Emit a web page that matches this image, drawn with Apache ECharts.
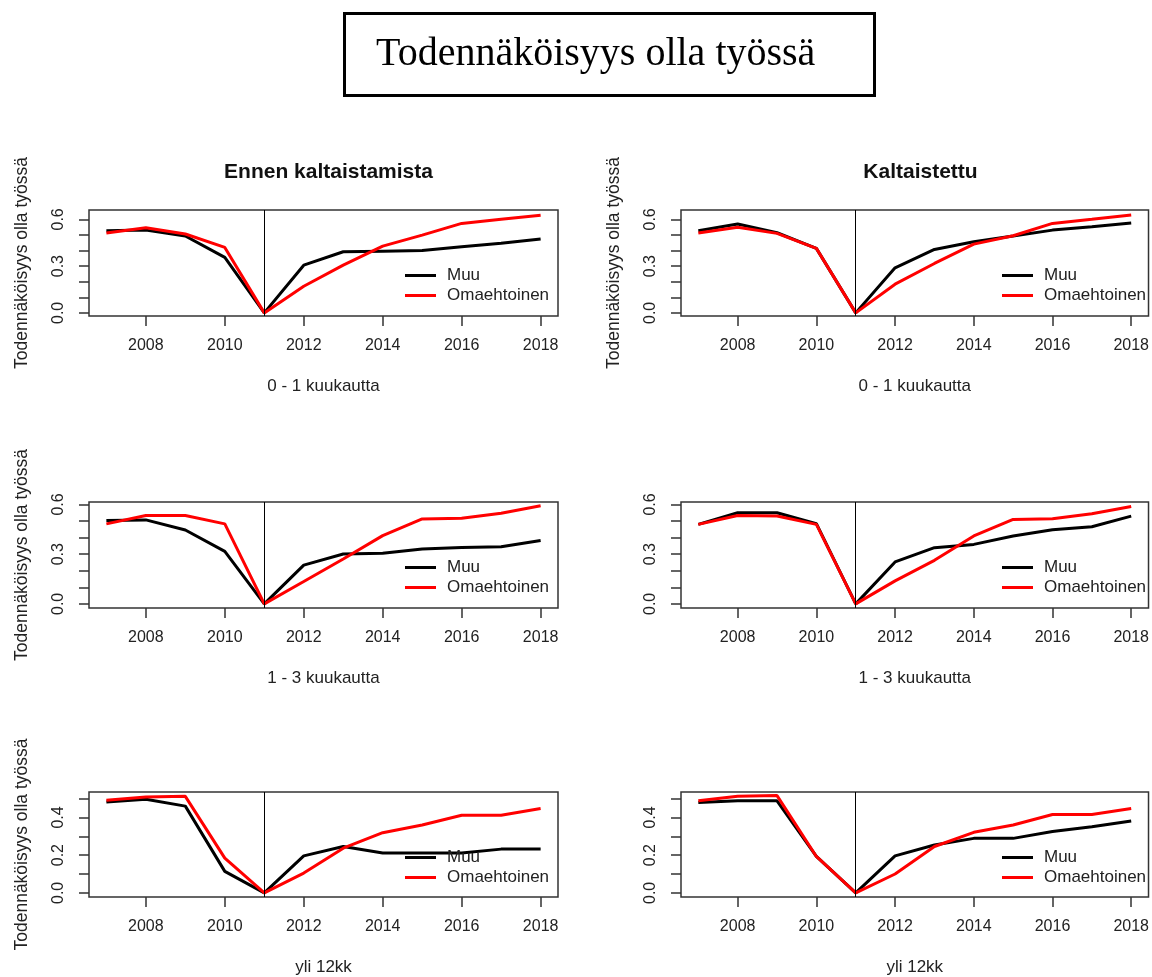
<!DOCTYPE html>
<html><head><meta charset="utf-8">
<script src="https://cdn.jsdelivr.net/npm/echarts@6/dist/echarts.min.js"></script>
<style>html,body{margin:0;padding:0;background:#fff}#c{width:1152px;height:977px}</style>
</head><body><div id="c"></div>
<script>
// ---- data ----
const years = [2007, 2008, 2009, 2010, 2011, 2012, 2013, 2014, 2015, 2016, 2017, 2018];
const xTicks = [2008, 2010, 2012, 2014, 2016, 2018];
const breakYear = 2011;
const mainTitle = 'Todennäköisyys olla työssä';
const yAxisTitle = 'Todennäköisyys olla työssä';
const panelTitles = ['Ennen kaltaistamista', 'Kaltaistettu'];
const rowLabels = ['0 - 1 kuukautta', '1 - 3 kuukautta', 'yli 12kk'];
const seriesNames = ['Muu', 'Omaehtoinen'];

const muuEnnen01 = [0.527, 0.531, 0.493, 0.356, 0, 0.306, 0.392, 0.396, 0.400, 0.424, 0.446, 0.474];
const omaEnnen01 = [0.512, 0.546, 0.506, 0.420, 0, 0.171, 0.306, 0.428, 0.499, 0.574, 0.600, 0.626];
const muuKalt01  = [0.527, 0.570, 0.514, 0.414, 0, 0.289, 0.407, 0.456, 0.493, 0.531, 0.553, 0.576];
const omaKalt01  = [0.512, 0.549, 0.510, 0.414, 0, 0.184, 0.317, 0.441, 0.495, 0.574, 0.600, 0.628];
const muuEnnen13 = [0.503, 0.507, 0.446, 0.317, 0, 0.234, 0.301, 0.305, 0.331, 0.341, 0.345, 0.382];
const omaEnnen13 = [0.483, 0.533, 0.533, 0.483, 0, 0.135, 0.271, 0.412, 0.513, 0.517, 0.547, 0.592];
const muuKalt13  = [0.480, 0.550, 0.550, 0.484, 0, 0.253, 0.339, 0.359, 0.410, 0.448, 0.466, 0.530];
const omaKalt13  = [0.480, 0.534, 0.530, 0.480, 0, 0.139, 0.263, 0.410, 0.510, 0.514, 0.544, 0.588];
const muuEnnen12 = [0.482, 0.496, 0.460, 0.114, 0, 0.196, 0.246, 0.211, 0.211, 0.211, 0.232, 0.232];
const omaEnnen12 = [0.491, 0.509, 0.512, 0.184, 0, 0.105, 0.237, 0.319, 0.360, 0.412, 0.412, 0.447];
const muuKalt12  = [0.479, 0.488, 0.488, 0.193, 0, 0.196, 0.254, 0.289, 0.289, 0.325, 0.351, 0.381];
const omaKalt12  = [0.488, 0.512, 0.516, 0.193, 0, 0.100, 0.246, 0.321, 0.360, 0.416, 0.416, 0.447];

const yTicksA = [0, 0.1, 0.2, 0.3, 0.4, 0.5, 0.6];
const yLabelsA = [0, 0.3, 0.6];
const yTicksB = [0, 0.1, 0.2, 0.3, 0.4, 0.5];
const yLabelsB = [0, 0.2, 0.4];

// ---- layout ----
const FONT = "'Liberation Sans', Arial, sans-serif";
const TXT = '#222';
const colLeft = [89, 681];
const colWidth = 469;
const rowTop = [210, 502, 792];
const boxH = 106;
const yRanges = [[-0.02, 0.66], [-0.025, 0.615], [-0.022, 0.535]];
const legendLeft = [405, 1002];

const panels = [
  [[muuEnnen01, omaEnnen01], [muuKalt01, omaKalt01]],
  [[muuEnnen13, omaEnnen13], [muuKalt13, omaKalt13]],
  [[muuEnnen12, omaEnnen12], [muuKalt12, omaKalt12]]
];
const yTickSets = [[yTicksA, yLabelsA], [yTicksA, yLabelsA], [yTicksB, yLabelsB]];

const grid = [], xAxis = [], yAxis = [], series = [], legend = [];
const title = [{
  text: mainTitle, left: 344, top: 13,
  padding: [21, 59, 22, 32],
  borderWidth: 3, borderColor: '#000',
  textStyle: { fontFamily: "'Liberation Serif', 'Times New Roman', serif", fontSize: 40, fontWeight: 'normal', color: '#000' }
}];
panelTitles.forEach((t, c) => {
  title.push({
    text: t, left: colLeft[c] + colWidth / 2, top: 157, textAlign: 'center',
    textStyle: { fontFamily: FONT, fontSize: 21, fontWeight: 'bold', color: '#111' }
  });
});

let idx = 0;
for (let r = 0; r < 3; r++) {
  for (let c = 0; c < 2; c++) {
    grid.push({ left: colLeft[c], top: rowTop[r], width: colWidth, height: boxH,
      show: true, borderColor: '#333', borderWidth: 1.5, backgroundColor: 'transparent' });
    xAxis.push({
      gridIndex: idx, type: 'value', min: 2006.56, max: 2018.44,
      axisLine: { show: false, onZero: false },
      splitLine: { show: false },
      axisTick: { show: true, customValues: xTicks, length: 10, lineStyle: { color: '#333', width: 1.5 } },
      axisLabel: { customValues: xTicks, formatter: v => String(v), margin: 22, fontSize: 16, color: TXT, fontFamily: FONT },
      name: rowLabels[r], nameLocation: 'middle', nameGap: 62,
      nameTextStyle: { fontSize: 17, color: TXT, fontFamily: FONT }
    });
    const [ticks, labels] = yTickSets[r];
    const showName = (c === 0) || (r === 0);
    yAxis.push({
      gridIndex: idx, type: 'value', min: yRanges[r][0], max: yRanges[r][1],
      axisLine: { show: false, onZero: false },
      splitLine: { show: false },
      axisTick: { show: true, customValues: ticks, length: 10, lineStyle: { color: '#333', width: 1.5 } },
      axisLabel: { customValues: labels, formatter: v => v.toFixed(1), rotate: 90, margin: 22, fontSize: 16, color: TXT, fontFamily: FONT },
      name: showName ? yAxisTitle : '', nameLocation: 'middle', nameRotate: 90, nameGap: 58,
      nameTextStyle: { fontSize: 17.5, color: TXT, fontFamily: FONT }
    });
    const [muu, oma] = panels[r][c];
    series.push({
      name: seriesNames[0], type: 'line', xAxisIndex: idx, yAxisIndex: idx,
      data: years.map((y, k) => [y, muu[k]]), symbol: 'none',
      lineStyle: { color: '#000', width: 3 }, itemStyle: { color: '#000' }, z: 2,
      markLine: { silent: true, symbol: ['none', 'none'], label: { show: false },
        lineStyle: { color: '#000', width: 1, type: 'solid' }, data: [{ xAxis: breakYear }] }
    });
    series.push({
      name: seriesNames[1], type: 'line', xAxisIndex: idx, yAxisIndex: idx,
      data: years.map((y, k) => [y, oma[k]]), symbol: 'none',
      lineStyle: { color: '#ff0000', width: 3 }, itemStyle: { color: '#ff0000' }, z: 3
    });
    legend.push({
      data: seriesNames, orient: 'vertical', left: legendLeft[c], top: rowTop[r] + 57,
      icon: 'rect', itemWidth: 31, itemHeight: 3, itemGap: 3, selectedMode: false,
      padding: 0,
      textStyle: { fontSize: 17, color: TXT, fontFamily: FONT, padding: [0, 0, 0, 6] }
    });
    idx++;
  }
}

const chart = echarts.init(document.getElementById('c'), null, { renderer: 'canvas' });
chart.setOption({ animation: false, backgroundColor: '#fff', title, grid, xAxis, yAxis, series, legend });
</script></body></html>
